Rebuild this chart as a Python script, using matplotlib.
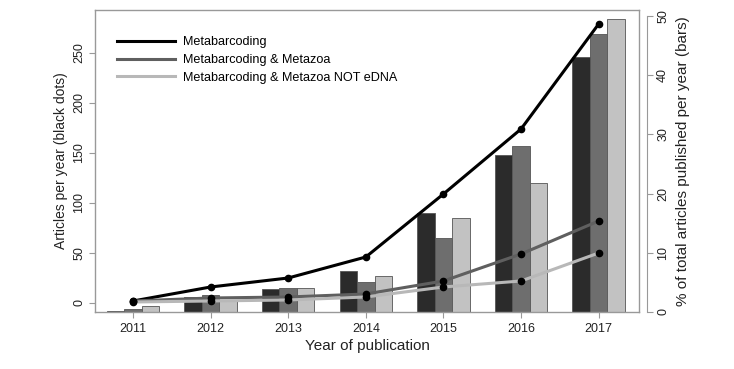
import matplotlib.pyplot as plt
import numpy as np

plt.rcParams['font.family'] = ['Liberation Sans', 'DejaVu Sans']

years = [2011, 2012, 2013, 2014, 2015, 2016, 2017]

# articles per year (lines, left axis)
n_meta = [2, 16, 25, 46, 109, 174, 279]
n_metazoa = [2, 5, 6, 9, 22, 49, 82]
n_not_edna = [1, 2, 3, 6, 16, 22, 50]

# % of total articles published per year (bars, right axis)
pct_meta = [0.2, 2.5, 3.9, 7.0, 16.8, 26.5, 43.0]
pct_metazoa = [0.5, 2.9, 4.1, 5.1, 12.5, 28.0, 47.0]
pct_not_edna = [1.0, 2.0, 4.0, 6.0, 15.8, 21.8, 49.5]

labels = ['Metabarcoding', 'Metabarcoding & Metazoa', 'Metabarcoding & Metazoa NOT eDNA']
bar_cols = ['#2b2b2b', '#6e6e6e', '#c2c2c2']
line_cols = ['#000000', '#5f5f5f', '#b8b8b8']
box_col = '#999999'
txt_col = '#222222'

fig = plt.figure(figsize=(7.34, 3.69), dpi=100)
ax = fig.add_axes([0.1294, 0.1545, 0.7412, 0.8184])
ax2 = ax.twinx()

x = np.arange(len(years))
w = 0.225
for i, vals in enumerate([pct_meta, pct_metazoa, pct_not_edna]):
    ax2.bar(x + (i - 1) * w, vals, width=w, color=bar_cols[i],
            edgecolor='#555555', linewidth=0.6)

for i, vals in enumerate([n_meta, n_metazoa, n_not_edna]):
    ax.plot(x, vals, color=line_cols[i], lw=2.2, label=labels[i])
    ax.plot(x, vals, 'o', color='black', ms=4.5, zorder=5)

ax.set_zorder(ax2.get_zorder() + 1)
ax.patch.set_visible(False)

ax.set_xlim(-0.49, 6.52)
ax.set_ylim(-9, 293)
ax2.set_ylim(0, 51)

ax.set_xticks(x)
ax.set_xticklabels([str(y) for y in years])
ax.set_yticks([0, 50, 100, 150, 200, 250])
ax.tick_params(axis='y', labelrotation=90, length=4, color=box_col,
               labelsize=9, labelcolor=txt_col, pad=3)
for lab in ax.get_yticklabels():
    lab.set_va('center')
ax.tick_params(axis='x', length=4, color=box_col, labelsize=9,
               labelcolor=txt_col, pad=4)
for sp in ax.spines.values():
    sp.set_color(box_col)
    sp.set_linewidth(1)

for s in ['top', 'left', 'bottom']:
    ax2.spines[s].set_visible(False)
ax2.spines['right'].set_position(('outward', 6))
ax2.spines['right'].set_bounds(0, 50)
ax2.spines['right'].set_color(box_col)
ax2.set_yticks([0, 10, 20, 30, 40, 50])
ax2.tick_params(axis='y', labelrotation=90, length=4, color=box_col,
                labelsize=9, labelcolor=txt_col, pad=3)
for lab in ax2.get_yticklabels():
    lab.set_va('center')

ax.set_xlabel('Year of publication', fontsize=11, color=txt_col, labelpad=3)
ax.set_ylabel('Articles per year (black dots)', fontsize=10, color=txt_col, labelpad=4)
ax2.set_ylabel('% of total articles published per year (bars)', fontsize=11,
               color=txt_col, labelpad=5)

ax.legend(loc='upper left', bbox_to_anchor=(0.02, 0.95), frameon=False,
          fontsize=9.1, handlelength=4.6, labelspacing=0.45, handletextpad=0.6)

fig.savefig('out.png', dpi=100)
